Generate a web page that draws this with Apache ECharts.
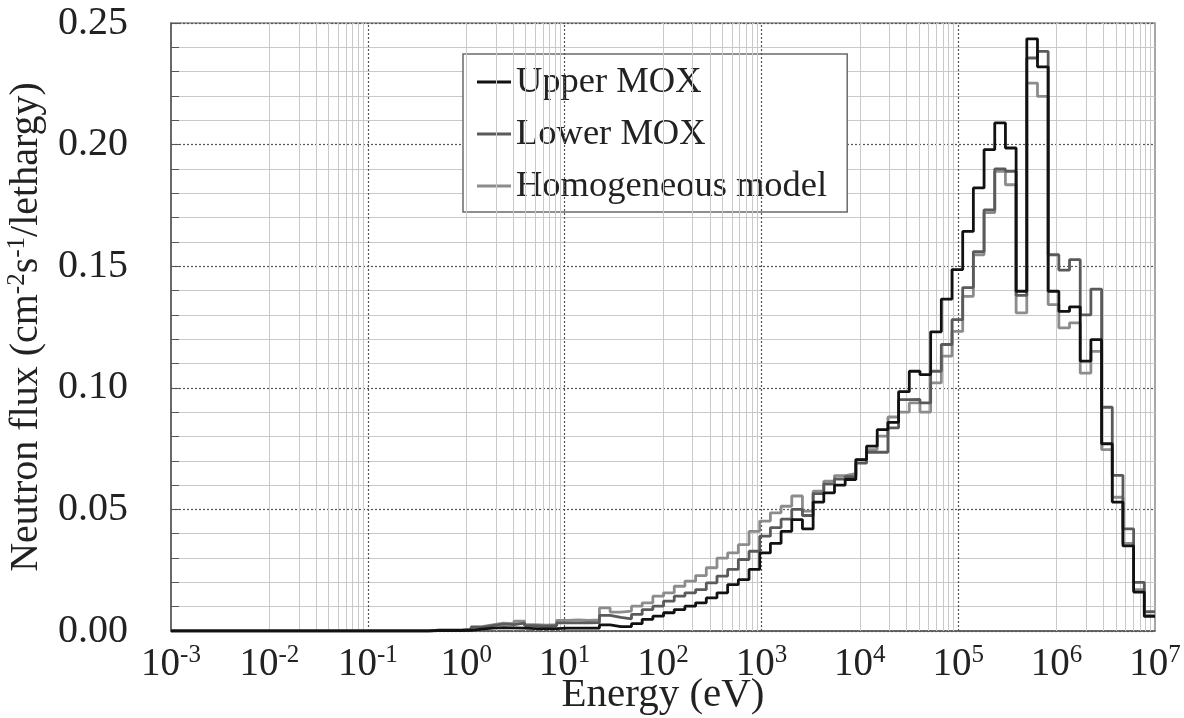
<!DOCTYPE html>
<html>
<head>
<meta charset="utf-8">
<script src="https://cdn.jsdelivr.net/npm/echarts@6/dist/echarts.min.js"></script>
<style>html,body{margin:0;padding:0;background:#fff;}#c{width:1184px;height:718px;}</style>
</head>
<body>
<div id="c"></div>
<script>
// Energy group boundaries (eV), ascending
const energyEdges = [0.001, 0.3224, 0.4140, 0.5316, 0.6825, 0.8764, 1.125, 1.445, 1.855, 2.382, 3.059, 3.928, 5.043, 6.476, 8.315, 10.68, 13.71, 17.60, 22.60, 29.02, 37.27, 47.85, 61.44, 78.89, 101.3, 130.1, 167.0, 214.5, 275.4, 353.6, 454.0, 582.9, 748.5, 961.1, 1234, 1585, 2035, 2613, 3355, 4307, 5531, 7102, 9119, 11710, 15030, 19310, 24790, 31830, 40870, 52480, 67380, 86520, 111100, 142600, 183200, 235200, 302000, 387700, 497900, 639300, 820800, 1054000, 1353000, 1738000, 2231000, 2865000, 3679000, 4724000, 6065000, 7788000, 10000000];

const upperMOX = [0, 0, 0.0002, 0.0002, 0.0002, 0.0003, 0.0008, 0.0012, 0.0014, 0.0013, 0.0012, 0.0010, 0.0010, 0.0010, 0.0012, 0.0012, 0.0012, 0.0012, 0.0025, 0.0018, 0.0018, 0.0030, 0.0048, 0.0061, 0.0075, 0.0088, 0.0102, 0.0116, 0.0136, 0.0157, 0.0191, 0.0211, 0.0253, 0.0321, 0.0360, 0.0410, 0.0458, 0.0420, 0.0530, 0.0568, 0.0600, 0.0623, 0.0705, 0.0760, 0.0828, 0.0858, 0.0984, 0.1068, 0.1054, 0.1230, 0.1365, 0.1486, 0.1643, 0.1822, 0.1979, 0.2089, 0.1986, 0.1397, 0.2435, 0.2320, 0.1397, 0.1314, 0.1333, 0.1110, 0.1198, 0.0770, 0.0530, 0.0350, 0.0160, 0.0060];

const lowerMOX = [0, 0, 0.0004, 0.0004, 0.0004, 0.0006, 0.0015, 0.0022, 0.0028, 0.0026, 0.0032, 0.0022, 0.0020, 0.0022, 0.0033, 0.0033, 0.0034, 0.0035, 0.0064, 0.0056, 0.0050, 0.0068, 0.0088, 0.0102, 0.0123, 0.0143, 0.0157, 0.0170, 0.0198, 0.0226, 0.0253, 0.0294, 0.0328, 0.0390, 0.0425, 0.0460, 0.0500, 0.0475, 0.0565, 0.0605, 0.0625, 0.0635, 0.0690, 0.0735, 0.0735, 0.0835, 0.0951, 0.0952, 0.0938, 0.1068, 0.1178, 0.1280, 0.1412, 0.1560, 0.1732, 0.1900, 0.1890, 0.1380, 0.2356, 0.2383, 0.1547, 0.1484, 0.1527, 0.1300, 0.1406, 0.0920, 0.0640, 0.0420, 0.0200, 0.0080];

const homogeneous = [0, 0, 0.0003, 0.0003, 0.0003, 0.0008, 0.0018, 0.0025, 0.0032, 0.0030, 0.0040, 0.0026, 0.0024, 0.0026, 0.0044, 0.0046, 0.0044, 0.0046, 0.0095, 0.0078, 0.0082, 0.0102, 0.0116, 0.0143, 0.0157, 0.0184, 0.0205, 0.0228, 0.0260, 0.0300, 0.0321, 0.0355, 0.0410, 0.0452, 0.0486, 0.0513, 0.0555, 0.0493, 0.0575, 0.0616, 0.0639, 0.0647, 0.0705, 0.0746, 0.0801, 0.0880, 0.0900, 0.0938, 0.0900, 0.1020, 0.1130, 0.1232, 0.1376, 0.1547, 0.1720, 0.1890, 0.1835, 0.1308, 0.2253, 0.2198, 0.1342, 0.1246, 0.1267, 0.1060, 0.1150, 0.0746, 0.0550, 0.0360, 0.0170, 0.0065];

const seriesNames = ['Upper MOX', 'Lower MOX', 'Homogeneous model'];
const yTicks = [0, 0.05, 0.10, 0.15, 0.20, 0.25];
// gridline decades: solid light lines with 2..9 sub-lines, and dotted decades
const lightDecades = [-2, 0, 2, 4, 6];
const subMultipliers = [1, 2, 3, 4, 5, 6, 7, 8, 9];
const dottedDecades = [-1, 1, 3, 5];

function stepData(vals) {
  const d = energyEdges.slice(0, vals.length).map((e, i) => [e, vals[i]]);
  d.push([energyEdges[energyEdges.length - 1], vals[vals.length - 1]]);
  return d;
}

const FONT = "'Liberation Serif','Times New Roman',serif";
const gridLines = [];
lightDecades.forEach(d => subMultipliers.forEach(m => {
  gridLines.push({xAxis: m * Math.pow(10, d), lineStyle: {color: '#c9c9c9', width: 1, type: 'solid'}});
}));
dottedDecades.forEach(d => {
  gridLines.push({xAxis: Math.pow(10, d), lineStyle: {color: '#555', width: 1.2, type: [2, 2]}});
});

const chart = echarts.init(document.getElementById('c'), null, {renderer: 'canvas'});
const colors = ['#111111', '#5a5a5a', '#8c8c8c'];
const vals = [upperMOX, lowerMOX, homogeneous];

const series = [{
  type: 'line', name: '_grid', data: [[1, 0]], symbol: 'none', silent: true,
  lineStyle: {opacity: 0}, z: 1, legendHoverLink: false,
  markLine: {silent: true, symbol: ['none', 'none'], label: {show: false}, animation: false, data: gridLines}
}];
[2, 1, 0].forEach(i => {
  series.push({
    type: 'line', name: seriesNames[i], data: stepData(vals[i]), step: 'end',
    symbol: 'none', z: 5 + (2 - i),
    lineStyle: {color: colors[i], width: 2.8},
    itemStyle: {color: colors[i]}
  });
});

chart.setOption({
  animation: false,
  backgroundColor: '#fff',
  grid: {left: 171, right: 29, top: 23, bottom: 87, show: true, borderColor: '#8a8a8a', borderWidth: 1.5,
    containLabel: false, outerBoundsMode: 'none'},
  legend: {
    data: seriesNames, orient: 'vertical', left: 463, top: 54,
    backgroundColor: '#fff', borderColor: '#6a6a6a', borderWidth: 1.5,
    padding: [8, 20, 6, 14], itemGap: 12, itemWidth: 34, itemHeight: 3, icon: 'rect',
    textStyle: {fontFamily: FONT, fontSize: 36.5, color: '#222', lineHeight: 40}
  },
  xAxis: {
    type: 'log', logBase: 10, min: 0.001, max: 1e7, interval: 1,
    axisLine: {lineStyle: {color: '#555', width: 1.5}},
    axisTick: {show: false}, splitLine: {show: false},
    axisLabel: {
      margin: 12, color: '#222', fontFamily: FONT, fontSize: 39,
      showMinLabel: true, showMaxLabel: true, hideOverlap: false,
      formatter: v => '{b|10}{s|' + Math.round(Math.log10(v)) + '}',
      rich: {
        b: {fontFamily: FONT, fontSize: 39, color: '#222'},
        s: {fontFamily: FONT, fontSize: 25, color: '#222', padding: [0, 0, 18, 0]}
      }
    },
    name: 'Energy (eV)', nameLocation: 'middle', nameGap: 44, nameMoveOverlap: false,
    nameTextStyle: {fontFamily: FONT, fontSize: 41, color: '#222'}
  },
  yAxis: {
    type: 'value', min: 0, max: 0.25, interval: 0.05,
    axisLine: {show: true, lineStyle: {color: '#555', width: 1.5}},
    axisTick: {show: true, inside: true, length: 8, lineStyle: {color: '#555'}},
    minorTick: {show: true, splitNumber: 5, length: 8, lineStyle: {color: '#555'}},
    splitLine: {show: true, lineStyle: {color: '#555', width: 1.2, type: [2, 2]}},
    minorSplitLine: {show: true, lineStyle: {color: '#c9c9c9', width: 1}},
    axisLabel: {margin: 43, color: '#222', fontFamily: FONT, fontSize: 40,
      formatter: v => yTicks.some(t => Math.abs(t - v) < 1e-9) ? v.toFixed(2) : ''},
    name: 'Neutron flux (cm{s|-2}s{s|-1}/lethargy)', nameLocation: 'middle', nameGap: 124, nameMoveOverlap: false,
    nameTextStyle: {fontFamily: FONT, fontSize: 40, color: '#222',
      rich: {s: {fontFamily: FONT, fontSize: 25, color: '#222', padding: [0, 0, 17, 0]}}}
  },
  series: series
});
</script>
</body>
</html>
